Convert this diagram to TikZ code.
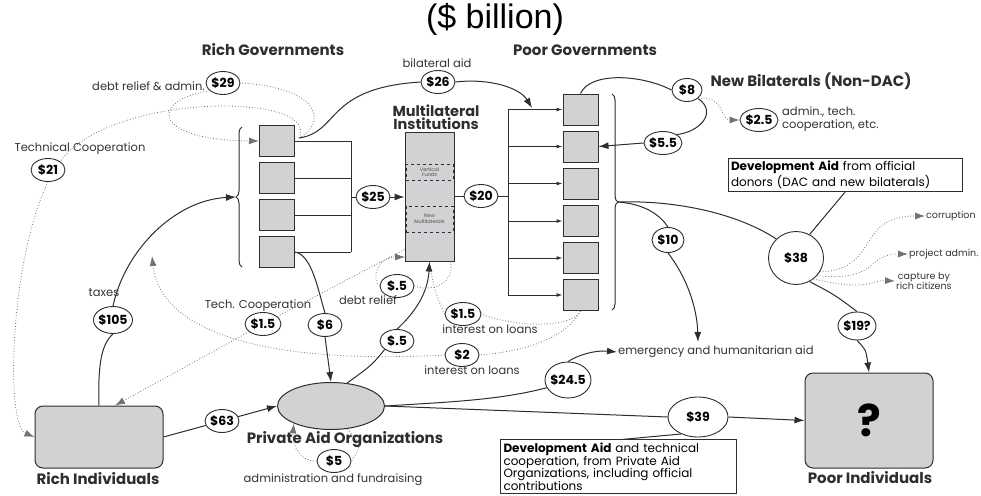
\documentclass[tikz,border=0pt]{standalone}
\usepackage{fontspec}
\setmainfont{Poppins}
\newfontfamily\titlefont{Liberation Sans}
\usepackage{tikz}
\usetikzlibrary{shapes,arrows.meta,positioning,calc,decorations.pathreplacing}
\definecolor{boxgray}{RGB}{208,210,211}
\definecolor{ink}{RGB}{45,45,50}
\tikzstyle{govbox} = [draw=ink, fill=boxgray, line width=1pt, minimum width=35pt, minimum height=31pt, inner sep=0pt]
\tikzstyle{amount} = [ellipse, draw=ink, fill=white, line width=0.9pt, inner xsep=-3pt, inner ysep=-2pt, minimum width=34pt, minimum height=23pt, font=\bfseries\fontsize{12.5}{12.5}\selectfont]
\tikzstyle{flow} = [draw=ink, line width=1pt]
\tikzstyle{leak} = [draw=black!55, dotted, line width=0.8pt]
\tikzstyle{curly} = [draw=ink, line width=1pt, decorate, decoration={brace, amplitude=6pt}]
\tikzstyle{heading} = [font=\bfseries\fontsize{15}{15}\selectfont, text=ink]
\tikzstyle{lbl} = [font=\fontsize{11.5}{12.5}\selectfont, text=black!80, inner sep=1pt]
\tikzstyle{smalllbl} = [font=\fontsize{9.5}{10.5}\selectfont, text=black!80, inner sep=1pt]
\tikzstyle{infobox} = [draw=ink, line width=1pt, align=left, font=\fontsize{12}{12.5}\selectfont, inner sep=3pt]
\tikzset{>={Latex[length=10pt,width=7pt]}}

\begin{document}
\begin{tikzpicture}[x=1pt,y=-1pt]
  \useasboundingbox (0,0) rectangle (981,495);
  \node[font=\titlefont\fontsize{34}{36}\selectfont] (title) at (495,19) {(\$ billion)};

  % governments and institutions
  \node[heading] (rgname) at (273,50) {Rich Governments};
  \node[heading] (pgname) at (585,50) {Poor Governments};
  \node[heading, align=center, font=\bfseries\fontsize{14.5}{13}\selectfont] (miname) at (436,117) {Multilateral\\Institutions};
  \node[heading] (nbname) at (811,81) {New Bilaterals (Non-DAC)};
  \foreach \i/\y in {1/141,2/178,3/215,4/252}
    \node[govbox] (rg\i) at (277,\y) {};
  \foreach \i/\y in {1/109.5,2/146.5,3/183.5,4/221,5/258,6/295}
    \node[govbox] (pg\i) at (580.5,\y) {};
  \draw[curly] (242,267) -- (242,127);
  \coordinate (rgtip) at (236,197);
  \draw[curly] (612,94) -- (612,310);
  \coordinate (pgtip) at (618,202);

  \node[govbox, minimum width=49pt, minimum height=129pt] (multi) at (429.5,196.5) {};
  \node[draw=ink, dashed, minimum width=47pt, minimum height=16pt, inner sep=0pt, align=center,
        font=\fontsize{5}{5.5}\selectfont, text=black!70] (vfunds) at (429.5,172) {Vertical\\Funds};
  \node[draw=ink, dashed, minimum width=47pt, minimum height=26pt, inner sep=0pt, align=center,
        font=\fontsize{5}{5.5}\selectfont, text=black!70] (newmulti) at (429.5,219) {New\\Multilaterals};

  % rich governments -> multilaterals -> poor governments
  \coordinate (rgbus) at (351,197);
  \foreach \i in {1,...,4}
    \draw[flow] (rg\i.east) -- (rg\i.east -| rgbus);
  \draw[flow] (rg1.east -| rgbus) -- (rg4.east -| rgbus);
  \node[amount] (a25) at (373,197) {\$25};
  \draw[flow] (rgbus) -- (a25);
  \draw[flow,->] (a25) -- (a25 -| multi.west);
  \node[amount] (a20) at (481,196) {\$20};
  \coordinate (pgbus) at (508,196);
  \draw[flow] (a20 -| multi.east) -- (a20) -- (pgbus);
  \draw[flow] (pg1.west -| pgbus) -- (pg6.west -| pgbus);
  \foreach \i in {1,...,6}
    \draw[flow,-{Latex[length=6pt,width=4pt]}] (pg\i.west -| pgbus) -- (pg\i.west);

  % bilateral aid
  \coordinate (rgout) at (299,138);
  \node[amount] (a26) at (438,82) {\$26};
  \node[lbl] (bilat) at (437,63) {bilateral aid};
  \coordinate (bilatend) at (532,108);
  \draw[flow] (rgout) .. controls (340,132) and (325,88) .. (a26.west);
  \draw[flow,->] (a26.east) .. controls (490,78) and (520,88) .. (bilatend);

  % admin and technical cooperation kept at home
  \node[amount] (a29) at (223,83) {\$29};
  \node[lbl, anchor=east] (drlbl) at (206,86) {debt relief \& admin.};
  \draw[leak] (rgout) .. controls (325,125) and (325,88) .. (a29.east);
  \draw[leak,->] (a29.210) .. controls (150,100) and (150,140) .. (rg1.west);
  \node[amount] (a21) at (48,170) {\$21};
  \node[lbl] (tclbl) at (80,149) {Technical Cooperation};
  \draw[leak] (rgout) .. controls (322,92) and (110,92) .. (a21.north east);
  \node[govbox, rounded corners=8pt, minimum width=128pt, minimum height=62pt] (richind) at (99,437) {};
  \node[heading] (riname) at (98,479) {Rich Individuals};
  \draw[leak,->] (a21.south) .. controls (10,260) and (5,425) .. (richind.west);

  % taxes
  \node[amount, minimum width=39pt, minimum height=27pt] (a105) at (113,320) {\$105};
  \node[lbl] (taxlbl) at (104,293) {taxes};
  \draw[flow] (richind.north) .. controls (98,370) and (100,345) .. (a105.south);
  \draw[flow,->] (a105.north) .. controls (125,250) and (175,200) .. (rgtip);

  % private aid organizations
  \node[draw=ink, fill=boxgray, line width=1pt, ellipse, minimum width=107pt, minimum height=47pt] (pao) at (331,406) {};
  \node[heading] (paname) at (345,440) {Private Aid Organizations};
  \node[amount] (a63) at (222,421) {\$63};
  \draw[flow] (richind.east) -- (a63);
  \draw[flow,->] (a63) -- (pao.west);
  \node[amount] (a5) at (334,461) {\$5};
  \node[lbl] (adminlbl) at (333,480) {administration and fundraising};
  \draw[leak] (pao.-55) .. controls (362,445) .. (a5.east);
  \draw[leak,->] (a5.west) .. controls (300,462) and (292,445) .. (pao.205);
  \node[amount] (a6) at (325,325) {\$6};
  \draw[flow] (rg4.east) .. controls (312,255) and (318,290) .. (a6.north);
  \draw[flow,->] (a6.south) -- (pao.north);
  \node[amount] (a05) at (397,341) {\$.5};
  \draw[flow] (pao.55) .. controls (372,365) .. (a05.south west);
  \draw[flow,->] (a05.north) .. controls (418,310) and (428,290) .. (multi.south);

  % flows back from multilaterals and poor governments
  \node[amount] (a05d) at (397,286) {\$.5};
  \node[lbl] (dblbl) at (368,300) {debt relief};
  \coordinate (multiin) at (405,257);
  \draw[leak] ($(multi.south east)+(-4,0)$) .. controls (455,285) and (430,292) .. (a05d.east);
  \draw[leak,->] (a05d.west) .. controls (370,275) and (380,257) .. (multiin);
  \node[amount, minimum width=36pt] (a15t) at (263,324) {\$1.5};
  \node[lbl] (tclbl2) at (258,306) {Tech. Cooperation};
  \draw[leak] ($(multi.west)+(0,53)$) -- (a15t);
  \draw[leak,->] (a15t) -- ($(richind.north)+(16,0)$);
  \node[amount, minimum width=36pt] (a15i) at (463,314) {\$1.5};
  \node[lbl] (intlbl) at (490,329) {interest on loans};
  \draw[leak] (pg6.south) .. controls (570,330) and (510,326) .. (a15i.east);
  \draw[leak] (a15i.west) .. controls (440,305) and (434,290) .. ($(multi.south)+(2,12)$);
  \node[amount] (a2) at (462,355) {\$2};
  \node[lbl] (intlbl2) at (472,370) {interest on loans};
  \coordinate (rgin) at (152,256);
  \draw[leak] (pg6.south) .. controls (565,340) and (520,352) .. (a2.east);
  \draw[leak,->] (a2.west) .. controls (260,365) and (160,330) .. (rgin);

  % new bilaterals
  \node[amount, minimum width=30pt] (a8) at (687,90) {\$8};
  \node[amount, minimum width=38pt] (a55) at (663,143) {\$5.5};
  \draw[flow] (pg1.north) .. controls (590,72) and (640,74) .. (a8.west);
  \draw[flow] (a8.south east) .. controls (718,112) and (700,132) .. (a55.north east);
  \draw[flow,->] (a55.west) -- (pg2.east);
  \node[amount, minimum width=38pt] (a25b) at (759,120) {\$2.5};
  \node[lbl, align=left, anchor=west] (nblbl) at (781,119) {admin., tech.\\cooperation, etc.};
  \draw[leak,->] (a8.south east) .. controls (725,95) and (720,120) .. (a25b.west);

  % poor governments onwards
  \node[amount, minimum width=32pt, minimum height=25pt] (a10) at (668,240) {\$10};
  \node[lbl, anchor=west] (emerglbl) at (617,352) {emergency and humanitarian aid};
  \coordinate (emergin) at (698,342);
  \draw[flow] (pgtip) .. controls (645,204) and (660,215) .. (a10.north);
  \draw[flow,->] (a10.south) .. controls (685,275) and (697,305) .. (emergin);
  \node[amount, minimum width=55pt, minimum height=53pt] (a38) at (796,258) {\$38};
  \draw[flow] (pgtip) .. controls (680,200) and (740,215) .. (a38.north west);
  \node[infobox, text width=228pt, minimum height=30pt] (devoff) at (845,175)
    {\textbf{Development Aid} from official\\donors (DAC and new bilaterals)};
  \draw[flow] (devoff.south) -- (a38.60);
  \node[smalllbl, anchor=west] (corrlbl) at (925,216) {corruption};
  \node[smalllbl, anchor=west] (projlbl) at (908,254) {project admin.};
  \node[smalllbl, align=center, anchor=west] (caplbl) at (895,281) {capture by\\rich citizens};
  \draw[leak,->] (a38.-30) .. controls (880,270) and (855,216) .. (corrlbl.west);
  \draw[leak,->] (a38.-40) .. controls (880,282) and (865,254) .. (projlbl.west);
  \draw[leak,->] (a38.-50) .. controls (870,292) and (870,280) .. (caplbl.west);
  \node[amount, minimum width=38pt, minimum height=28pt] (a19) at (857,326) {\$19?};
  \node[govbox, rounded corners=8pt, minimum width=128pt, minimum height=95pt,
        font=\bfseries\fontsize{44}{44}\selectfont] (poorind) at (869,420.5) {?};
  \node[heading] (piname) at (870,478) {Poor Individuals};
  \draw[flow] (a38.-60) .. controls (835,295) .. (a19.north);
  \draw[flow,->] (a19.south) .. controls (866,350) .. (poorind.north);

  % private aid flows
  \node[amount, minimum width=46pt, minimum height=36pt] (a245) at (568,380) {\$24.5};
  \node[amount, minimum width=60pt, minimum height=40pt] (a39) at (698,417) {\$39};
  \draw[flow] (pao.east) .. controls (450,402) and (500,400) .. (a245.200);
  \draw[flow,->] (a245.north) .. controls (578,355) and (595,350) .. (emerglbl.west);
  \draw[flow] (pao.east) -- (a39.west);
  \draw[flow,->] (a39.east) -- (poorind.west);
  \node[infobox, text width=230pt, minimum height=53pt] (devpriv) at (618.5,466.5)
    {\textbf{Development Aid} and technical\\cooperation, from Private Aid\\Organizations, including official\\contributions};
  \draw[flow] ($(devpriv.north)+(4,0)$) -- (a39.225);
\end{tikzpicture}
\end{document}
